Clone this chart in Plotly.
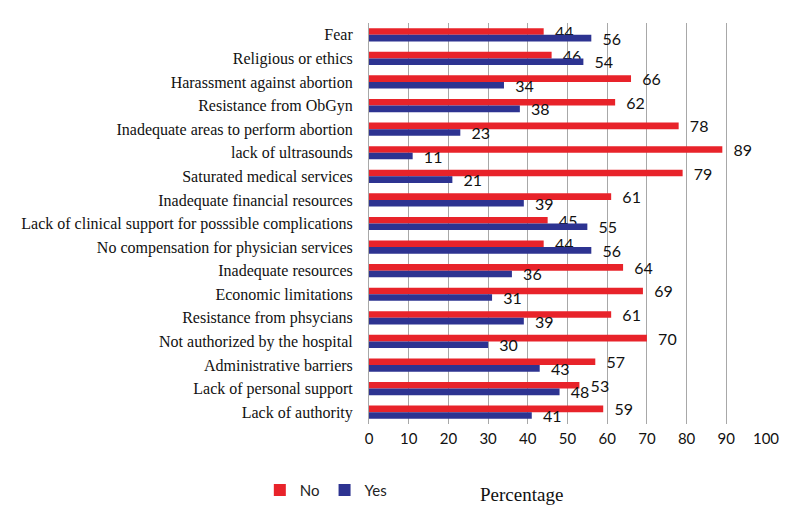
import plotly.graph_objects as go

categories = [
    "Fear",
    "Religious or ethics",
    "Harassment against abortion",
    "Resistance from ObGyn",
    "Inadequate areas to perform abortion",
    "lack of ultrasounds",
    "Saturated medical services",
    "Inadequate financial resources",
    "Lack of clinical support for posssible complications",
    "No compensation for physician services",
    "Inadequate resources",
    "Economic limitations",
    "Resistance from phsycians",
    "Not authorized by the hospital",
    "Administrative barriers",
    "Lack of personal support",
    "Lack of authority",
]
no_values = [44, 46, 66, 62, 78, 89, 79, 61, 45, 44, 64, 69, 61, 70, 57, 53, 59]
yes_values = [56, 54, 34, 38, 23, 11, 21, 39, 55, 56, 36, 31, 39, 30, 43, 48, 41]

RED = "#E8232A"
BLUE = "#2D3391"
SANS = "Lato, 'Open Sans', sans-serif"
SERIF = "Liberation Serif"

fig = go.Figure()
for name, vals, color in (("No", no_values, RED), ("Yes", yes_values, BLUE)):
    fig.add_trace(
        go.Bar(
            y=categories,
            x=vals,
            name=name,
            orientation="h",
            marker=dict(color=color, line_width=0),
            text=vals,
            texttemplate="\u00a0\u00a0%{x}",
            textposition="outside",
            constraintext="none",
            cliponaxis=False,
            textfont=dict(family=SANS, size=16, color="#111111"),
        )
    )

# axis title sits left of centre in the original, so it is an annotation
fig.add_annotation(
    text="Percentage",
    xref="paper", yref="paper",
    x=0.385, y=-0.175,
    xanchor="center", yanchor="middle",
    showarrow=False,
    font=dict(family=SERIF, size=19, color="#111111"),
)

# page body adds an 8px margin, so the figure is 8px smaller than the window
fig.update_layout(
    width=792,
    height=510,
    barmode="group",
    bargap=0.44,
    bargroupgap=0,
    plot_bgcolor="white",
    paper_bgcolor="white",
    margin=dict(l=361, r=34, t=15, b=94, autoexpand=False),
    legend=dict(
        orientation="h",
        x=-0.275,
        y=-0.165,
        xanchor="left",
        yanchor="middle",
        font=dict(family=SANS, size=15, color="#222222"),
        itemwidth=30,
    ),
    xaxis=dict(
        range=[0, 100],
        dtick=10,
        showgrid=True,
        gridcolor="#A8A8A8",
        gridwidth=1,
        zeroline=False,
        showline=False,
        automargin=False,
        tickfont=dict(family=SANS, size=15, color="#111111"),
        ticklabelstandoff=4,
    ),
    yaxis=dict(
        autorange="reversed",
        showline=True,
        linecolor="#A8A8A8",
        linewidth=1,
        ticks="",
        automargin=False,
        ticklabelstandoff=12,
        tickfont=dict(family=SERIF, size=16, color="#111111"),
    ),
)

fig.write_html("out.html")
